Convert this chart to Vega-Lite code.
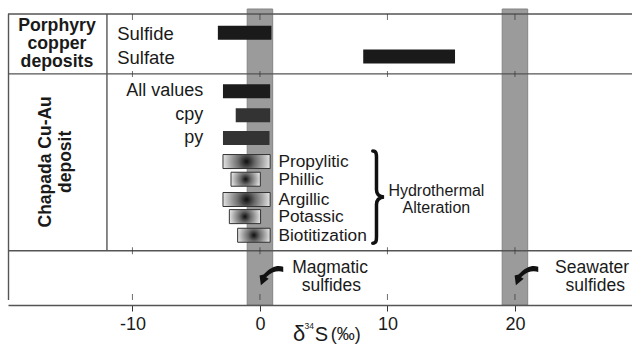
{
  "$schema": "https://vega.github.io/schema/vega-lite/v6.json",
  "width": 624,
  "height": 296,
  "autosize": {"type": "none"},
  "padding": {"left": 8, "top": 9, "right": 0, "bottom": 45},
  "background": "white",
  "config": {"view": {"stroke": null}, "font": "Liberation Sans", "text": {"font": "Liberation Sans", "color": "#1a1a1a"}},
  "datasets": {
    "bands": [{"name": "Magmatic sulfides", "lo": -1, "hi": 1}, {"name": "Seawater sulfides", "lo": 19, "hi": 21}],
    "hlines": [{"row": 0}, {"row": 6.2}, {"row": 24.5}],
    "vlines": [{"xv": -19.72, "top": 0, "bottom": 29.6}, {"xv": -12.0, "top": 0, "bottom": 24.5}],
    "ticks": [{"t": -10}, {"t": 0}, {"t": 10}, {"t": 20}],
    "bars": [
      {"group": "Porphyry copper deposits", "label": "Sulfide", "lo": -3.3, "hi": 0.9, "row": 1.95, "kind": "porphyry"},
      {"group": "Porphyry copper deposits", "label": "Sulfate", "lo": 8.1, "hi": 15.3, "row": 4.39, "kind": "porphyry"},
      {"group": "Chapada Cu-Au deposit", "label": "All values", "lo": -2.9, "hi": 0.8, "row": 7.99, "kind": "all"},
      {"group": "Chapada Cu-Au deposit", "label": "cpy", "lo": -1.9, "hi": 0.8, "row": 10.49, "kind": "mineral"},
      {"group": "Chapada Cu-Au deposit", "label": "py", "lo": -2.9, "hi": 0.75, "row": 12.83, "kind": "mineral"}
    ],
    "alteration": [
      {"label": "Propylitic", "lo": -2.9, "hi": 0.8, "row": 15.27},
      {"label": "Phillic", "lo": -2.27, "hi": 0.03, "row": 17.1},
      {"label": "Argillic", "lo": -2.9, "hi": 0.8, "row": 19.2},
      {"label": "Potassic", "lo": -2.4, "hi": 0.05, "row": 20.97},
      {"label": "Biotitization", "lo": -1.75, "hi": 0.8, "row": 22.9}
    ],
    "notes": [
      {"text": "Hydrothermal", "x": 13.84, "row": 18.3},
      {"text": "Alteration", "x": 13.84, "row": 20.1}
    ],
    "notes2": [
      {"text": "Magmatic", "x": 5.5, "row": 26.24},
      {"text": "sulfides", "x": 5.6, "row": 28.18},
      {"text": "Seawater", "x": 26.05, "row": 26.24},
      {"text": "sulfides", "x": 26.3, "row": 28.18}
    ],
    "sections": [
      {"text": "Porphyry", "x": -15.92, "row": 1.21},
      {"text": "copper", "x": -15.92, "row": 3.07},
      {"text": "deposits", "x": -15.92, "row": 4.92}
    ],
    "sectionsRot": [
      {"text": "Chapada Cu-Au", "x": -16.78, "row": 15.3},
      {"text": "deposit", "x": -15.23, "row": 15.3}
    ],
    "arrows": [{"x": 0.94, "row": 27.1}, {"x": 20.94, "row": 27.1}]
  },
  "encoding": {
    "x": {"type": "quantitative", "scale": {"domain": [-19.76, 29.18], "nice": false, "zero": false}},
    "y": {"type": "quantitative", "scale": {"domain": [0, 29.6], "nice": false, "zero": false, "reverse": true}}
  },
  "layer": [
    {
      "data": {"name": "bands"},
      "mark": {"type": "rect", "fill": "#9b9b9b", "stroke": "#848484", "strokeWidth": 1},
      "encoding": {"x": {"field": "lo", "type": "quantitative", "title": null}, "x2": {"field": "hi"}}
    },
    {
      "data": {"name": "hlines"},
      "mark": {"type": "rule", "color": "#555", "strokeWidth": 1.4},
      "encoding": {"y": {"field": "row", "type": "quantitative", "axis": null}}
    },
    {
      "data": {"name": "vlines"},
      "mark": {"type": "rule", "color": "#555", "strokeWidth": 1.4},
      "encoding": {"x": {"field": "xv", "type": "quantitative"}, "y": {"field": "top", "type": "quantitative"}, "y2": {"field": "bottom"}}
    },
    {
      "data": {"name": "bars"},
      "mark": {"type": "bar", "orient": "horizontal", "size": 14},
      "encoding": {
        "x": {"field": "lo", "type": "quantitative"},
        "x2": {"field": "hi"},
        "y": {"field": "row", "type": "quantitative"},
        "color": {"field": "kind", "type": "nominal", "legend": null, "scale": {"domain": ["porphyry", "all", "mineral"], "range": ["#1a1a1a", "#1c1c1c", "#333333"]}}
      }
    },
    {
      "data": {"name": "alteration"},
      "mark": {
        "type": "bar", "orient": "horizontal", "size": 14, "stroke": "#333", "strokeWidth": 1,
        "fill": {"gradient": "radial", "x1": 0.5, "y1": 0.5, "r1": 0, "x2": 0.5, "y2": 0.5, "r2": 0.6,
          "stops": [{"offset": 0, "color": "#0d0d0d"}, {"offset": 0.3, "color": "#6a6a6a"}, {"offset": 0.85, "color": "#e6e6e6"}, {"offset": 1, "color": "#f6f6f6"}]}
      },
      "encoding": {"x": {"field": "lo", "type": "quantitative"}, "x2": {"field": "hi"}, "y": {"field": "row", "type": "quantitative"}}
    },
    {
      "data": {"name": "bars"},
      "transform": [{"filter": "datum.group == 'Porphyry copper deposits'"}],
      "mark": {"type": "text", "align": "left", "baseline": "middle", "fontSize": 18.5, "dy": 1.5},
      "encoding": {"x": {"datum": -11.2}, "y": {"field": "row", "type": "quantitative"}, "text": {"field": "label"}}
    },
    {
      "data": {"name": "bars"},
      "transform": [{"filter": "datum.group == 'Chapada Cu-Au deposit'"}],
      "mark": {"type": "text", "align": "right", "baseline": "middle", "fontSize": 18, "dy": 0},
      "encoding": {"x": {"datum": -4.45}, "y": {"field": "row", "type": "quantitative"}, "text": {"field": "label"}}
    },
    {
      "data": {"name": "alteration"},
      "mark": {"type": "text", "align": "left", "baseline": "middle", "fontSize": 17.3, "dy": 0.5},
      "encoding": {"x": {"datum": 1.45}, "y": {"field": "row", "type": "quantitative"}, "text": {"field": "label"}}
    },
    {
      "data": {"name": "notes"},
      "mark": {"type": "text", "align": "center", "baseline": "middle", "fontSize": 16},
      "encoding": {"x": {"field": "x", "type": "quantitative"}, "y": {"field": "row", "type": "quantitative"}, "text": {"field": "text"}}
    },
    {
      "data": {"name": "notes2"},
      "mark": {"type": "text", "align": "center", "baseline": "middle", "fontSize": 17.5},
      "encoding": {"x": {"field": "x", "type": "quantitative"}, "y": {"field": "row", "type": "quantitative"}, "text": {"field": "text"}}
    },
    {
      "data": {"name": "sections"},
      "mark": {"type": "text", "align": "center", "baseline": "middle", "fontSize": 17.7, "fontWeight": "bold"},
      "encoding": {"x": {"field": "x", "type": "quantitative"}, "y": {"field": "row", "type": "quantitative"}, "text": {"field": "text"}}
    },
    {
      "data": {"name": "sectionsRot"},
      "mark": {"type": "text", "align": "center", "baseline": "middle", "fontSize": 17.5, "fontWeight": "bold", "angle": 270},
      "encoding": {"x": {"field": "x", "type": "quantitative"}, "y": {"field": "row", "type": "quantitative"}, "text": {"field": "text"}}
    },
    {
      "data": {"name": "ticks"},
      "mark": {"type": "tick", "orient": "vertical", "size": 6, "thickness": 1, "color": "#333"},
      "encoding": {"x": {"field": "t", "type": "quantitative"}, "y": {"datum": 0.3}}
    },
    {
      "data": {"name": "ticks"},
      "mark": {"type": "tick", "orient": "vertical", "size": 6, "thickness": 1, "color": "#333"},
      "encoding": {"x": {"field": "t", "type": "quantitative"}, "y": {"datum": 6.2}}
    },
    {
      "data": {"name": "ticks"},
      "mark": {"type": "tick", "orient": "vertical", "size": 7, "thickness": 1, "color": "#333"},
      "encoding": {"x": {"field": "t", "type": "quantitative"}, "y": {"datum": 24.5}}
    },
    {
      "data": {"name": "ticks"},
      "mark": {"type": "tick", "orient": "vertical", "size": 6, "thickness": 1, "color": "#333"},
      "encoding": {
        "x": {"field": "t", "type": "quantitative", "axis": {"values": [-10, 0, 10, 20], "labelExpr": "'' + datum.value", "title": null, "domainColor": "#555", "domainWidth": 1.4, "tickColor": "#333", "tickSize": 6, "tickWidth": 1, "labelFontSize": 18, "labelColor": "#1a1a1a", "labelPadding": 4, "labelFont": "Liberation Sans", "grid": false, "zindex": 1}},
        "y": {"datum": 29.3}
      }
    },
    {
      "data": {"values": [{"x": 9.25, "row": 18.95}]},
      "mark": {"type": "point", "filled": false, "opacity": 1, "stroke": "#111", "strokeWidth": 3.5, "strokeCap": "round",
        "shape": "M -0.11 -0.99 C -0.03 -0.99 -0.03 -0.92 -0.03 -0.85 L -0.03 -0.16 C -0.03 -0.06 0.04 -0.01 0.13 0 C 0.04 0.01 -0.03 0.06 -0.03 0.16 L -0.03 0.85 C -0.03 0.92 -0.03 0.99 -0.11 0.99",
        "size": 8649},
      "encoding": {"x": {"field": "x", "type": "quantitative"}, "y": {"field": "row", "type": "quantitative"}}
    },
    {
      "data": {"name": "arrows"},
      "mark": {"type": "point", "filled": true, "opacity": 1, "fill": "#111", "strokeWidth": 0,
        "shape": "M 0.87 -0.69 C 0.5 -0.85 0.0 -0.8 -0.65 -0.1 L -0.95 -0.02 L -0.85 0.72 L -0.25 0.22 L -0.45 0.1 C 0.0 -0.35 0.5 -0.42 0.87 -0.3 Z",
        "size": 676},
      "encoding": {"x": {"field": "x", "type": "quantitative"}, "y": {"field": "row", "type": "quantitative"}}
    },
    {
      "data": {"values": [{"text": "δ", "x": 2.6, "row": 33.8}]},
      "mark": {"type": "text", "align": "left", "baseline": "alphabetic", "fontSize": 22},
      "encoding": {"x": {"field": "x", "type": "quantitative"}, "y": {"field": "row", "type": "quantitative"}, "text": {"field": "text"}}
    },
    {
      "data": {"values": [{"text": "34", "x": 3.5, "row": 32.6}]},
      "mark": {"type": "text", "align": "left", "baseline": "alphabetic", "fontSize": 8.5},
      "encoding": {"x": {"field": "x", "type": "quantitative"}, "y": {"field": "row", "type": "quantitative"}, "text": {"field": "text"}}
    },
    {
      "data": {"values": [{"text": "S", "x": 4.3, "row": 33.8}]},
      "mark": {"type": "text", "align": "left", "baseline": "alphabetic", "fontSize": 20},
      "encoding": {"x": {"field": "x", "type": "quantitative"}, "y": {"field": "row", "type": "quantitative"}, "text": {"field": "text"}}
    },
    {
      "data": {"values": [{"text": "(‰)", "x": 5.55, "row": 33.7}]},
      "mark": {"type": "text", "align": "left", "baseline": "alphabetic", "fontSize": 18},
      "encoding": {"x": {"field": "x", "type": "quantitative"}, "y": {"field": "row", "type": "quantitative"}, "text": {"field": "text"}}
    }
  ]
}
